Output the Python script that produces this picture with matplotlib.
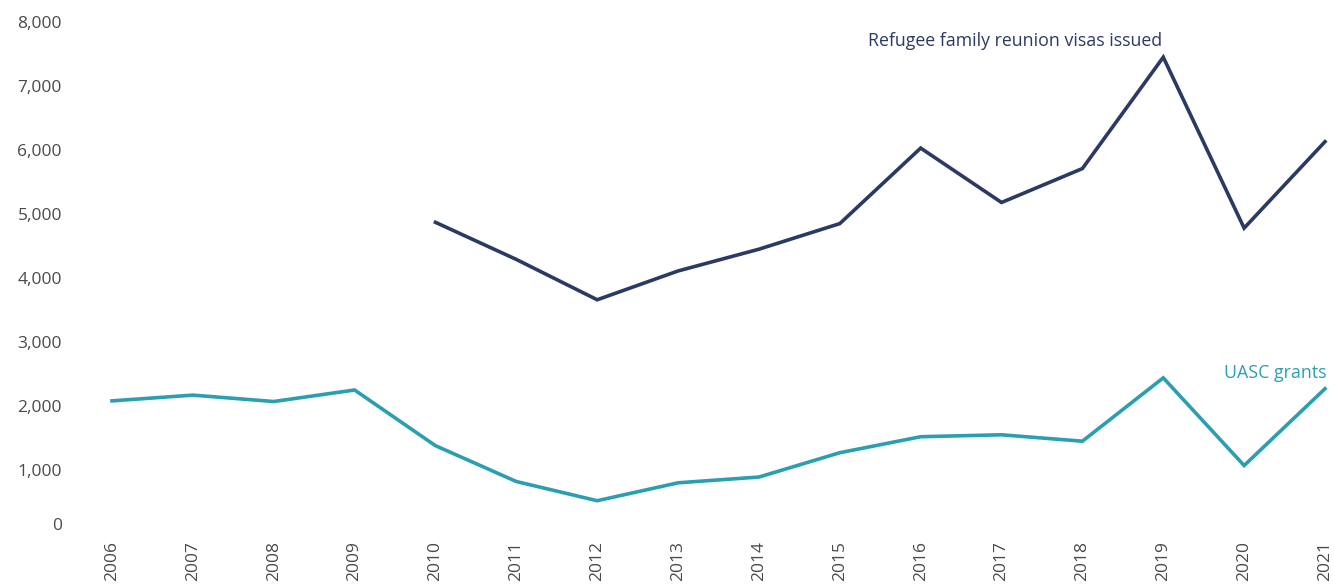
import numpy as np
import matplotlib
matplotlib.use('Agg')
import matplotlib.pyplot as plt
import matplotlib.transforms as mtrans
from matplotlib.ticker import FuncFormatter

plt.rcParams['font.family'] = ['Open Sans', 'DejaVu Sans']

years = list(range(2006, 2022))
refugee_years = list(range(2010, 2022))
refugee = [4870, 4290, 3660, 4110, 4450, 4850, 6030, 5180, 5710, 7450, 4780, 6130]
uasc = [2080, 2170, 2070, 2250, 1380, 820, 520, 800, 890, 1270, 1520, 1550, 1450, 2440, 1070, 2270]
yticks = [0, 1000, 2000, 3000, 4000, 5000, 6000, 7000, 8000]

navy = '#2b3a62'
teal = '#2a9fb1'
grey = '#4a4a4a'

fig = plt.figure(figsize=(13.34, 5.84), dpi=100)
ax = fig.add_axes([112/1334, 50/584, 1213/1334, 512/584])

ax.plot(refugee_years, refugee, color=navy, lw=2.6, solid_joinstyle='miter', clip_on=False)
ax.plot(years, uasc, color=teal, lw=2.6, solid_joinstyle='miter', clip_on=False)

ax.set_xlim(2006, 2021)
ax.set_ylim(0, 8000)
ax.set_yticks(yticks)
ax.yaxis.set_major_formatter(FuncFormatter(lambda v, p: '{:,.0f}'.format(v)))
ax.set_xticks(years)
ax.set_xticklabels([str(y) for y in years], rotation=90, va='top')
ax.tick_params(axis='both', length=0, labelsize=12.5, labelcolor=grey)
ax.tick_params(axis='y', pad=36)
ax.tick_params(axis='x', pad=5)
for lab in ax.get_yticklabels():
    lab.set_horizontalalignment('right')
# zero label sits a little higher in the original
zl = ax.get_yticklabels()[0]
zl.set_transform(zl.get_transform() + mtrans.ScaledTranslation(0, 10/100, fig.dpi_scale_trans))

for s in ax.spines.values():
    s.set_visible(False)

ax.text(2017.17, 7570, 'Refugee family reunion visas issued', color=navy, fontsize=12.8,
        ha='center', va='bottom')
ax.text(2021.02, 2380, 'UASC grants', color=teal, fontsize=12.8, ha='right', va='bottom')

fig.savefig('out.png', dpi=100)
